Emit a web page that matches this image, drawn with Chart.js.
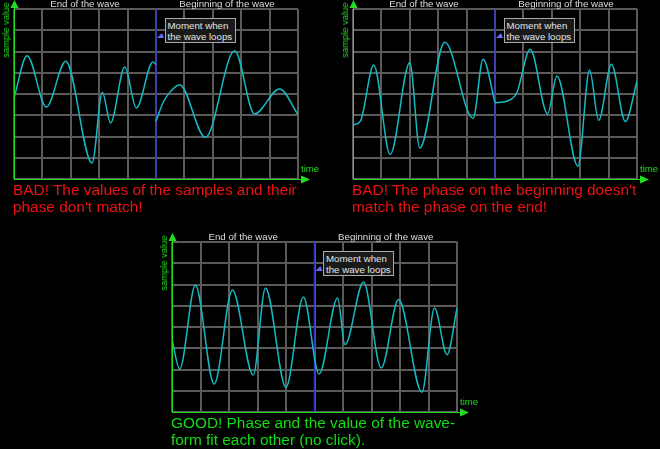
<!DOCTYPE html>
<html><head><meta charset="utf-8">
<script src="https://cdn.jsdelivr.net/npm/chart.js@4.4.1/dist/chart.umd.min.js"></script>
<style>
html,body{margin:0;padding:0;background:#000;width:660px;height:449px;overflow:hidden;}
#stage{position:relative;width:660px;height:449px;}
canvas{position:absolute;}
.t{position:absolute;white-space:nowrap;font-family:"Liberation Sans",Arial,sans-serif;}
.hdr{font-size:9.7px;line-height:10px;color:#dedede;transform:translateX(-50%);}
.sv{font-size:9.4px;line-height:10px;color:#22dd22;transform:translate(-50%,-50%) rotate(-90deg);}
.tm{font-size:9.6px;line-height:10px;color:#22dd22;}
.note{box-sizing:border-box;border:1px solid #a9a9a9;background:#1a1a1a;color:#e4e4e4;font-size:9.7px;line-height:11px;padding:1px 0 0 2px;width:71px;height:24.5px;}
.cap{font-size:15.4px;line-height:17.4px;}
</style></head><body><div id="stage"></div>
<script>
// ---- data ----
const xGrid = [0,1,2,3,4,5,6,7,8,9,10];
const yGrid = [0,1,2,3,4,5,6,7,8];
const loopTime = 5;
const headerLabels = ["End of the wave", "Beginning of the wave"];
const headerTimes = [2.5, 7.5];
const noteLines = ["Moment when", "the wave loops"];
const axisTitleY = "sample value";
const axisTitleX = "time";

// panel 1 (BAD: values and phase don't match)
const p1EndTime   = [0, 0.46, 1.14, 1.82, 2.75, 3.11, 3.40, 3.90, 4.31, 4.89, 5.0];
const p1EndValue  = [3.81, 5.80, 3.39, 5.54, 0.75, 4.08, 2.64, 5.27, 3.34, 5.51, 5.38];
const p1BeginTime = [5.0, 5.25, 5.5, 5.83, 6.74, 7.77, 8.47, 9.35, 10.0];
const p1BeginValue= [2.71, 3.6, 4.1, 4.44, 1.96, 6.04, 3.06, 4.24, 3.03];

// panel 2 (BAD: phase mismatch)
const p2EndTime   = [0, 0.26, 0.73, 1.31, 2.0, 2.35, 3.23, 4.23, 4.58, 5.0];
const p2EndValue  = [2.54, 2.72, 5.37, 1.15, 5.48, 1.46, 6.43, 2.85, 5.64, 3.59];
const p2BeginTime = [5.0, 5.3, 5.6, 5.77, 6.24, 6.85, 7.18, 7.92, 8.33, 8.65, 9.10, 9.59, 10.0];
const p2BeginValue= [3.59, 3.62, 3.78, 4.06, 6.11, 3.07, 4.85, 0.60, 5.13, 2.76, 5.40, 2.71, 4.61];

// panel 3 (GOOD)
const p3Time  = [0, 0.27, 0.82, 1.48, 2.12, 2.85, 3.28, 4.0, 4.61, 5.16, 5.81, 6.07, 6.72, 7.34, 7.95, 8.77, 9.21, 9.65, 10.0];
const p3Value = [3.40, 2.02, 5.96, 1.32, 5.74, 1.74, 5.84, 1.16, 5.41, 1.79, 5.36, 3.17, 6.12, 2.07, 5.29, 0.93, 4.89, 2.70, 4.89];

const captions1 = ["BAD! The values of the samples and their", "phase don't match!"];
const captions2 = ["BAD! The phase on the beginning doesn't", "match the phase on the end!"];
const captions3 = ["GOOD! Phase and the value of the wave-", "form fit each other (no click)."];

// ---- styles ----
const GRID = '#5b5b5b', CYAN = '#14b9c2', BLUE = '#3434c8', GREEN = '#22dd22', POINTER = '#6a6aff';
const PAD = {left:20, right:20, top:12, bottom:10};

const stage = document.getElementById('stage');

const decor = {
  id:'decor',
  afterDatasetsDraw(chart){
    const {ctx, chartArea:a, scales:{x}} = chart;
    ctx.save();
    ctx.strokeStyle = GREEN; ctx.fillStyle = GREEN; ctx.lineWidth = 1;
    const ax = Math.round(a.left)+0.5, ay = Math.round(a.bottom)+0.5;
    ctx.beginPath();
    ctx.moveTo(ax, a.top-3); ctx.lineTo(ax, ay); ctx.lineTo(a.right+4, ay);
    ctx.stroke();
    ctx.beginPath(); ctx.moveTo(ax, a.top-9); ctx.lineTo(ax+4, a.top-1); ctx.lineTo(ax-4, a.top-1); ctx.closePath(); ctx.fill();
    ctx.beginPath(); ctx.moveTo(a.right+12, ay); ctx.lineTo(a.right+3, ay-4); ctx.lineTo(a.right+3, ay+4); ctx.closePath(); ctx.fill();
    const bx = x.getPixelForValue(loopTime);
    ctx.fillStyle = POINTER;
    ctx.beginPath(); ctx.moveTo(bx+1, a.top+29); ctx.lineTo(bx+6, a.top+24); ctx.lineTo(bx+8, a.top+29); ctx.closePath(); ctx.fill();
    ctx.restore();
  }
};

function seg(t, v){ return t.map((tt,i)=>({x:tt, y:v[i]})); }
function waveDs(data){ return {data, borderColor:CYAN, borderWidth:1.5, cubicInterpolationMode:'monotone', pointRadius:0, fill:false, order:1}; }

function makePanel(plotLeft, plotTop, plotW, plotH, segments, caption, capColor){
  const cv = document.createElement('canvas');
  const cl = plotLeft - PAD.left, ct = plotTop - PAD.top;
  cv.width = plotW + PAD.left + PAD.right; cv.height = plotH + PAD.top + PAD.bottom;
  cv.style.left = cl+'px'; cv.style.top = ct+'px';
  cv.style.width = cv.width+'px'; cv.style.height = cv.height+'px';
  stage.appendChild(cv);
  const datasets = segments.map(s=>waveDs(seg(s[0], s[1])));
  datasets.push({data:[{x:loopTime,y:yGrid[0]},{x:loopTime,y:yGrid[yGrid.length-1]}], borderColor:BLUE, borderWidth:1.5, pointRadius:0, fill:false, order:2});
  const chart = new Chart(cv, {
    type:'line',
    data:{datasets},
    options:{
      responsive:false, animation:false, events:[], devicePixelRatio:1,
      layout:{padding:PAD},
      plugins:{legend:{display:false}, tooltip:{enabled:false}},
      scales:{
        x:{type:'linear', min:xGrid[0], max:xGrid[xGrid.length-1],
           afterBuildTicks:s=>{s.ticks = xGrid.map(v=>({value:v}));},
           ticks:{display:false}, grid:{color:GRID, lineWidth:2, drawTicks:false}, border:{display:false},
           afterFit:s=>{s.height=0;}},
        y:{type:'linear', min:yGrid[0], max:yGrid[yGrid.length-1],
           afterBuildTicks:s=>{s.ticks = yGrid.map(v=>({value:v}));},
           ticks:{display:false}, grid:{color:GRID, lineWidth:2, drawTicks:false}, border:{display:false},
           afterFit:s=>{s.width=0;}}
      }
    },
    plugins:[decor]
  });
  const a = chart.chartArea, xs = chart.scales.x;
  const L = cl + a.left, T = ct + a.top, R = cl + a.right, B = ct + a.bottom;
  function add(cls, text, css){ const d=document.createElement('div'); d.className='t '+cls; d.textContent=text; Object.assign(d.style, css); stage.appendChild(d); return d; }
  headerLabels.forEach((h,i)=>add('hdr', h, {left:(cl+xs.getPixelForValue(headerTimes[i]))+'px', top:(T-10)+'px'}));
  add('sv', axisTitleY, {left:(L-8)+'px', top:(T+21)+'px'});
  add('tm', axisTitleX, {left:(R+3)+'px', top:(B-15)+'px'});
  const bx = cl + xs.getPixelForValue(loopTime);
  const n = add('note', '', {left:(bx+8.5)+'px', top:(T+9.2)+'px'});
  n.innerHTML = noteLines.join('<br>');
  caption.forEach((c,i)=>add('cap', c, {left:(L-1)+'px', top:(B+1.6+i*17.4)+'px', color:capColor}));
}

makePanel(14, 9, 284, 170, [[p1EndTime,p1EndValue],[p1BeginTime,p1BeginValue]], captions1, '#ee1111');
makePanel(353, 9, 284, 170, [[p2EndTime,p2EndValue],[p2BeginTime,p2BeginValue]], captions2, '#ee1111');
makePanel(172, 242, 285, 170, [[p3Time,p3Value]], captions3, '#11dd11');
</script>
</body></html>
